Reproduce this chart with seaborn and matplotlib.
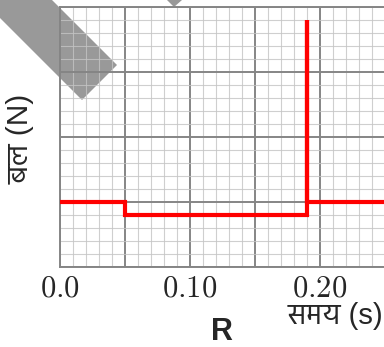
# -------------------------------------------------------
# IMPORT REQUIRED LIBRARIES
# -------------------------------------------------------

import matplotlib
matplotlib.use("Agg")
import matplotlib.pyplot as plt
from matplotlib import font_manager
from matplotlib.ft2font import FT2Font
from matplotlib.patches import Polygon
from matplotlib.ticker import MultipleLocator
import seaborn as sns

# -------------------------------------------------------
# DATA
# -------------------------------------------------------

# time in seconds, force in grid units (one minor square = 1)
time_s = [0.0, 0.05, 0.05, 0.19, 0.19, 0.19, 0.25]
force_n = [5, 5, 4, 4, 19, 5, 5]

xtick_values = [0.0, 0.10, 0.20]
xtick_labels = ["$0.0$", "$0.10$", "$0.20$"]

x_label = "समय (s)"
y_label = "बल (N)"
panel_label = "R"

# -------------------------------------------------------
# FIND A FONT THAT CAN DRAW DEVANAGARI
# -------------------------------------------------------

PREFERRED = ["Noto Sans Devanagari", "Hind", "Mukta", "Poppins",
             "Yantramanav", "Anek Devanagari"]

def find_devanagari_font():
    found = {}
    for entry in font_manager.fontManager.ttflist:
        if "wght" in entry.fname:
            continue
        try:
            cmap = FT2Font(entry.fname).get_charmap()
        except Exception:
            continue
        if ord("ब") in cmap:
            found[entry.name] = True
    for name in PREFERRED:
        if name in found:
            return name
    return next(iter(found), None)

hindi_font = find_devanagari_font()

# -------------------------------------------------------
# PLOT
# -------------------------------------------------------

sns.set_style("white")
plt.rcParams["mathtext.fontset"] = "cm"
label_family = ["Liberation Sans", "DejaVu Sans"]
if hindi_font:
    label_family = ["Liberation Sans", hindi_font, "DejaVu Sans"]
plt.rcParams["font.family"] = label_family

W, H = 384, 347
fig = plt.figure(figsize=(W / 100, H / 100), dpi=100)

# plot area in pixels: left 60, top 7, bottom 267, runs off the right edge
left_px, top_px, bottom_px = 60, 7, 267
ax = fig.add_axes([left_px / W, 1 - bottom_px / H, 1 - left_px / W, (bottom_px - top_px) / H])
ax.set_facecolor("none")

# grey diagonal band and corner tip behind the grid (figure pixels)
def px(points):
    return [(x / W, 1 - y / H) for x, y in points]

band = Polygon(px([(52, 0), (117, 65), (82, 100), (0, 18), (0, 0)]),
               closed=True, transform=fig.transFigure, facecolor="#999999",
               edgecolor="none", zorder=-1)
tip = Polygon(px([(167, 0), (182, 0), (174, 7)]), closed=True,
              transform=fig.transFigure, facecolor="#999999",
              edgecolor="none", zorder=-1)
fig.patches.extend([band, tip])

sns.lineplot(x=time_s, y=force_n, sort=False, estimator=None, ax=ax,
             color="#ff0000", linewidth=3.0, zorder=5)
for line in ax.lines:
    line.set_solid_capstyle("butt")
    line.set_solid_joinstyle("miter")

ax.set_xlim(0, (W - left_px) / 65 * 0.05)
ax.set_ylim(0, 20)

ax.xaxis.set_major_locator(MultipleLocator(0.05))
ax.xaxis.set_minor_locator(MultipleLocator(0.01))
ax.yaxis.set_major_locator(MultipleLocator(5))
ax.yaxis.set_minor_locator(MultipleLocator(1))

ax.grid(which="minor", color="#c4c4c4", alpha=0.8, linewidth=0.8)
ax.grid(which="major", color="#858585", linewidth=1.4)

ax.set_xticklabels([])
ax.set_yticklabels([])
ax.tick_params(which="both", length=0)

# only three labelled ticks, placed below the axis in data units
for xv, lab in zip(xtick_values, xtick_labels):
    ax.text(xv, -1.68, lab, fontsize=22, ha="center", va="center",
            clip_on=False)

for side in ["top", "left", "bottom"]:
    ax.spines[side].set_color("#858585")
    ax.spines[side].set_linewidth(1.4)
ax.spines["right"].set_visible(False)

# axis titles and panel letter
fig.text(383 / W, 1 - 324 / H, x_label, fontsize=21, ha="right", va="baseline")
fig.text(21 / W, 1 - 139 / H, y_label, fontsize=21.5, ha="center", va="center",
         rotation=90)
fig.text(222 / W, 1 - 332 / H, panel_label, fontsize=22, fontweight="bold",
         ha="center", va="center")

fig.savefig("out.png", dpi=100)
